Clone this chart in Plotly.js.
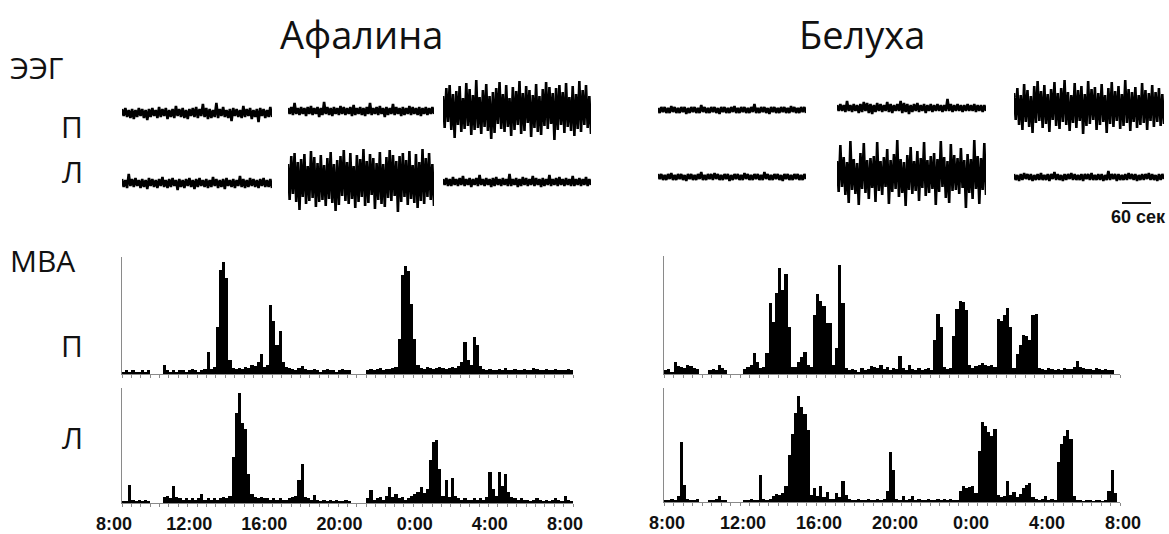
<!DOCTYPE html>
<html><head><meta charset="utf-8">
<script src="https://cdn.plot.ly/plotly-3.0.1.min.js"></script>
<style>html,body{margin:0;padding:0;background:#fff}</style>
</head><body><div id="chart" style="width:1169px;height:534px"></div>
<script>
// ---------------- DATA ----------------
const timeTickHours = [8, 12, 16, 20, 24, 28, 32];
const timeTickLabels = ['8:00', '12:00', '16:00', '20:00', '0:00', '4:00', '8:00'];
const binStartHour = 8;
const binHours = 1 / 6; // 10-minute bins

// МВА, Афалина, правое полушарие (П)
const mvaAfalinaP = [2,3,2,3,2,2,3,2,3, null,null,null,null, 8,
 3,2,3,2,3,3,2,3,4,3,2,3,4, 19,4,6,40,89,96,82,12,5,
 4,5,4,6,5,8,7, 10,17,6,8,59,45,25,37,10,6,5,
 4,3,5,7,4,3,3,4,3,2,3,4,3,3,2,3,4,3,3, null,null,null,null,null,
 3,4,3,4,5,3,4,4,5,6, 30,85,92,88,60,30,8,
 5,4,6,5,4,5,6,5,4,5,6,5,7, 10,27,12,8,32,25,7,
 4,3,4,3,3,4,3,5,3,3,4,3,3,4,3,3,5,4,3,3,4,3,3,4,3,3,3,4,3];
// МВА, Афалина, левое полушарие (Л)
const mvaAfalinaL = [2,2,16,3,2,3,2,3,2, null,null,null,null,
 5,6,4,15,5,4,3,4,3,4,3,4,8,3,4,3,4,3,4,5,4,6,
 40,78,96,70,64,25,8,
 5,4,5,4,4,3,4,3,4,3, 3,4,5,6,20,34,5,4,3,7, 3,2,3,2,3,2,3,2,2,3,2,
 null,null,null,null,null,
 4,11,3,4,5,3,6,14,5,8,4,5,3,4,6,8,10,14,9,12,
 37,53,55,30, 6,20,5,22,6, 4,3,4,3,3,4,3,4,3,5,
 27,12,6,27,15,25,10,5,
 4,3,4,3,3,2,3,4,3,2,3,2,3,4,3,2,6,3,2];
// МВА, Белуха, П
const mvaBelukhaP = [3,4,2,10,7,6,5,8,7,5,4, null,null,null, 3,4,3,8,5,3, null,null,null,null,null,
 4,6,8,18,10,5,6, 18,60,44,69,90,71,85,40,6,
 6,10,14,19,8,6, 50,68,62,58,43,43,8, 22,92,60,5,
 3,4,3,2,5,3,4,7,6,5,8,4,6,3,5,4,15,5,3,8,4,3,5,3,4,5,3,
 29,51,40,6, 4,5, 32,55,62,61,54,8, 5,7,8,9,8,7,8,6,
 47,45,50,56,40,5, 17,25,33,32,29,50,51,5,
 4,3,5,4,3,4,3,5,4,4,6,11,6,5,4,4,3,5,4,3,4,3,3, null,null];
// МВА, Белуха, Л
const mvaBelukhaL = [2,2,3,2,5,53,15,3,2,2,3, null,null,null, 2,2,3,5,2,2, null,null,null,null,null,
 2,2,3,2,2,24,3,2,3,5,7,6,8,14,
 41,60,78,93,83,77,63,6,
 12,5,14,4,9,3,3,8,4,18,6,
 3,2,2,3,2,2,3,2,2,3,2,3, 10,44,28,3,
 2,5,2,3,5,2,3,2,2,3,2,2,3,2,3,2,3,2,2,
 10,14,12,13,14,8, 45,70,67,61,58,64,6,
 4,5,18,6,9,4,7,12,15,17,4, 3,2,3,5,2,3,2,
 35,51,58,63,55,5, 2,2,1,2,2,1,2,2,1,2, 10,28,8,null];

// ЭЭГ fragments (signal, arbitrary units)
const eegAfalinaP1 = [4,-3,5,-4,3,-5,4,-6,3,-4,5,-3,4,-5,3,-7,4,-4,5,-3,3,-5,6,-4,4,-3,5,-6,3,-4,4,-5,7,-3,4,-4,5,-5,3,-6,4,-3,5,-4,6,-5,4,-3,9,-4,5,-6,4,-5,3,-4,10,-5,4,-3,6,-4,3,-5,4,-8,5,-3,4,-4,3,-5,7,-4,4,-3,5,-6,3,-4,4,-9,5,-3,4,-5,3,-4,6,-4];
const eegAfalinaP2 = [3,-3,4,-4,8,-3,3,-4,4,-3,3,-5,4,-3,5,-4,3,-3,4,-6,3,-4,9,-3,4,-4,3,-5,4,-3,3,-4,5,-3,4,-4,3,-3,4,-5,6,-4,3,-3,4,-4,3,-5,4,-3,8,-4,3,-3,4,-4,5,-3,3,-6,4,-4,3,-3,7,-4,4,-3,3,-5,4,-4,3,-3,5,-4,4,-3,3,-4,4,-5,3,-3,4,-4,3,-3,4,-3];
const eegAfalinaP3 = [14,-18,22,-12,25,-20,16,-28,19,-15,24,-22,12,-19,27,-16,21,-25,15,-20,30,-18,13,-24,20,-17,26,-21,14,-29,18,-23,22,-14,28,-19,16,-22,25,-17,12,-26,23,-20,19,-15,29,-24,17,-21,24,-13,20,-27,15,-18,26,-22,14,-25,21,-16,28,-19,23,-14,17,-30,22,-20,25,-15,18,-23,27,-17,13,-21,24,-26,16,-19,29,-22,20,-15,25,-18,14,-24];
const eegAfalinaL1 = [4,-4,3,-5,9,-3,4,-4,5,-3,3,-5,4,-4,3,-6,5,-3,4,-4,3,-5,4,-3,6,-4,3,-5,4,-4,5,-3,3,-7,4,-4,3,-5,4,-3,5,-4,3,-6,4,-4,5,-3,3,-4,4,-5,3,-4,6,-3,4,-5,3,-4,4,-6,5,-3,3,-4,4,-5,3,-3,7,-4,4,-5,3,-4,5,-3,4,-4,3,-5,4,-3,5,-4,3,-4,4,-5];
const eegAfalinaL2 = [16,-20,24,-14,27,-22,18,-30,21,-17,26,-24,14,-21,29,-18,23,-27,17,-22,25,-20,15,-26,22,-19,28,-23,16,-31,20,-25,24,-16,30,-21,18,-24,27,-19,14,-28,25,-22,21,-17,31,-26,19,-23,26,-15,22,-29,17,-20,28,-24,16,-27,23,-18,30,-21,25,-16,19,-32,24,-22,27,-17,20,-25,29,-19,15,-23,26,-28,18,-21,31,-24,22,-17,27,-20,16,-26];
const eegAfalinaL3 = [3,-3,4,-4,3,-4,5,-3,3,-4,4,-3,6,-4,3,-3,4,-5,3,-3,4,-4,7,-3,3,-4,4,-3,3,-5,4,-4,5,-3,3,-4,4,-3,3,-4,8,-4,3,-3,4,-5,3,-4,5,-3,4,-4,3,-3,6,-4,4,-3,3,-5,4,-4,3,-3,7,-4,3,-3,4,-4,5,-3,3,-4,4,-3,3,-4,6,-4,3,-3,4,-4,3,-3,5,-4,3,-3];
const eegBelukhaP1 = [2,-3,3,-2,3,-3,2,-3,4,-2,3,-3,2,-3,3,-2,3,-4,2,-3,3,-2,3,-3,2,-3,5,-2,3,-3,2,-3,3,-2,3,-3,2,-4,3,-2,3,-3,2,-3,3,-2,4,-3,2,-3,3,-2,3,-3,2,-3,3,-2,6,-3,2,-3,3,-2,3,-3,2,-4,3,-2,3,-3,2,-3,3,-2,3,-3,2,-3,4,-2,3,-3,2,-3,3,-2,3,-3];
const eegBelukhaP2 = [3,-3,4,-3,3,-4,7,-3,3,-4,4,-3,3,-5,4,-4,6,-3,5,-5,4,-6,3,-4,5,-3,4,-4,3,-3,6,-4,4,-5,3,-3,4,-3,7,-5,5,-4,4,-6,3,-4,4,-3,5,-4,3,-3,4,-5,3,-3,4,-4,3,-3,4,-3,3,-4,3,-3,9,-3,4,-4,3,-3,4,-3,3,-4,3,-3,4,-3,3,-3,4,-4,3,-3,3,-4,3,-3];
const eegBelukhaP3 = [15,-12,20,-17,13,-22,24,-14,18,-19,12,-25,22,-15,27,-13,17,-20,23,-16,14,-24,19,-12,26,-18,15,-21,20,-14,28,-17,16,-23,13,-15,25,-20,18,-13,22,-26,14,-18,27,-16,19,-12,21,-22,15,-17,24,-14,13,-25,20,-16,26,-19,17,-13,22,-21,14,-18,28,-15,19,-23,16,-14,21,-20,13,-17,25,-15,18,-22,15,-13,23,-19,16,-14,20,-18,14,-16];
const eegBelukhaL1 = [3,-2,3,-3,2,-3,3,-2,4,-3,2,-3,3,-2,3,-3,2,-4,3,-2,3,-3,2,-3,3,-2,5,-3,2,-3,3,-2,3,-3,4,-2,3,-3,2,-3,3,-2,3,-4,2,-3,3,-2,3,-3,2,-3,4,-2,3,-3,2,-3,3,-2,3,-3,2,-3,5,-2,3,-3,2,-3,3,-2,3,-3,2,-4,3,-2,3,-3,2,-3,3,-2,3,-3,2,-3,3,-2];
const eegBelukhaL2 = [14,-17,30,-12,18,-20,13,-28,34,-15,16,-19,12,-30,22,-14,32,-18,15,-24,17,-13,19,-27,33,-16,14,-20,18,-12,26,-29,15,-17,21,-14,35,-22,16,-18,13,-31,20,-15,28,-19,14,-16,24,-26,17,-13,33,-21,15,-18,19,-14,22,-30,16,-17,34,-12,18,-23,14,-28,31,-16,20,-15,17,-19,27,-13,15,-33,21,-18,16,-24,35,-14,19,-29,17,-15,32,-20];
const eegBelukhaL3 = [3,-3,2,-4,3,-3,4,-2,3,-3,3,-4,2,-3,3,-3,4,-3,2,-3,3,-4,3,-2,5,-3,3,-3,2,-4,3,-3,3,-2,4,-3,3,-3,2,-3,3,-4,3,-2,3,-3,4,-3,2,-3,3,-3,3,-4,2,-3,6,-3,3,-2,3,-4,3,-3,2,-3,3,-3,4,-2,3,-3,3,-4,2,-3,3,-3,3,-2,4,-3,3,-3,2,-4,3,-3,3,-2];

// ---------------- LAYOUT HELPERS ----------------
const W = 1169, H = 534;
const px = v => v / W;
const py = v => 1 - v / H;

const traces = [];
const layout = {
  width: W, height: H, margin: {l: 0, r: 0, t: 0, b: 0},
  paper_bgcolor: '#fff', plot_bgcolor: 'rgba(0,0,0,0)',
  showlegend: false, bargap: 0, annotations: [], shapes: []
};
let axCount = 0;
function newAxes() {
  axCount += 1;
  const s = axCount === 1 ? '' : String(axCount);
  return {xa: 'x' + s, ya: 'y' + s, xk: 'xaxis' + s, yk: 'yaxis' + s};
}

// EEG fragments: [data, left px, right px, center y px]
const eegSlots = [
  [eegAfalinaP1, 122, 272, 113], [eegAfalinaP2, 288, 434, 111], [eegAfalinaP3, 443, 591, 110],
  [eegAfalinaL1, 122, 272, 183], [eegAfalinaL2, 288, 434, 180], [eegAfalinaL3, 443, 591, 182],
  [eegBelukhaP1, 658, 806, 110], [eegBelukhaP2, 837, 986, 108], [eegBelukhaP3, 1014, 1164, 108],
  [eegBelukhaL1, 658, 806, 177], [eegBelukhaL2, 837, 986, 175], [eegBelukhaL3, 1014, 1164, 177]
];
eegSlots.forEach(([data, x0, x1, yc]) => {
  const a = newAxes();
  traces.push({type: 'scatter', mode: 'lines', y: data, xaxis: a.xa, yaxis: a.ya,
    line: {color: '#000', width: 2.6}, hoverinfo: 'skip'});
  layout[a.xk] = {domain: [px(x0), px(x1)], range: [0, data.length - 1], visible: false, anchor: a.ya, fixedrange: true};
  layout[a.yk] = {domain: [py(yc + 36), py(yc - 36)], range: [-36, 36], visible: false, anchor: a.xa, fixedrange: true};
});

// MVA panels: [data, left, right, top, bottom, show labels, label shift]
const mvaSlots = [
  [mvaAfalinaP, 122, 573, 257, 374, false, -8],
  [mvaAfalinaL, 122, 573, 388, 503, true, -8],
  [mvaBelukhaP, 664, 1120, 256, 374, false, 3],
  [mvaBelukhaL, 664, 1120, 388, 502, true, 3]
];
const axisGray = '#8a8a8a';
mvaSlots.forEach(([data, x0, x1, yt, yb, labels, shift]) => {
  const a = newAxes();
  traces.push({type: 'bar', x: data.map((_, i) => binStartHour + (i + 0.5) * binHours), y: data,
    width: binHours, marker: {color: '#000', line: {width: 0}}, xaxis: a.xa, yaxis: a.ya, hoverinfo: 'skip'});
  layout[a.xk] = {
    domain: [px(x0), px(x1)], range: [8, 32], anchor: a.ya, fixedrange: true,
    showline: true, linecolor: axisGray, linewidth: 1, showgrid: false, zeroline: false,
    ticks: 'outside', ticklen: 3, tickcolor: axisGray, tickwidth: 1,
    tickvals: timeTickHours, ticktext: timeTickLabels, showticklabels: labels,
    ticklabelshift: shift, ticklabelstandoff: 1,
    tickfont: {family: 'Liberation Sans, Arial, sans-serif', size: 18, color: '#111', weight: 'bold'},
    minor: {dtick: 0.5, tick0: 8, ticks: 'outside', ticklen: 3, tickcolor: axisGray, tickwidth: 1, showgrid: false}
  };
  layout[a.yk] = {
    domain: [py(yb), py(yt)], range: [0, 100], anchor: a.xa, fixedrange: true,
    showline: true, linecolor: axisGray, linewidth: 1, showgrid: false, zeroline: false,
    ticks: '', showticklabels: false
  };
});

// text labels
const bigFont = {family: 'Open Sans, Noto Sans, sans-serif', size: 38, color: '#111'};
const labFont = {family: 'Open Sans, Noto Sans, sans-serif', size: 30, color: '#111'};
function txt(text, x, y, font, xanchor) {
  layout.annotations.push({text, x: px(x), y: py(y), xref: 'paper', yref: 'paper',
    xanchor: xanchor || 'center', yanchor: 'middle', showarrow: false, font});
}
txt('Афалина', 361, 34, bigFont);
txt('Белуха', 862, 34, bigFont);
txt('ЭЭГ', 8, 68, labFont, 'left');
txt('П', 72, 126, labFont);
txt('Л', 72, 171, labFont);
txt('МВА', 8, 260, labFont, 'left');
txt('П', 72, 345, labFont);
txt('Л', 72, 437, labFont);
txt('60 сек', 1138, 217, {family: 'Liberation Sans, Arial, sans-serif', size: 18, color: '#111', weight: 'bold'});
layout.shapes.push({type: 'line', xref: 'paper', yref: 'paper', x0: px(1122), x1: px(1151), y0: py(203), y1: py(203),
  line: {color: '#111', width: 2}});

Plotly.newPlot('chart', traces, layout, {displayModeBar: false, staticPlot: true});
</script>
</body></html>
